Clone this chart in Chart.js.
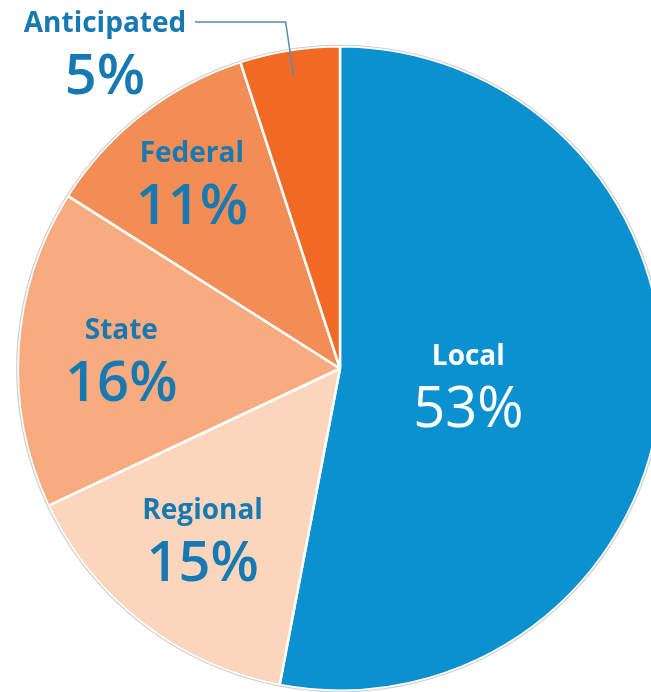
<!DOCTYPE html>
<html>
<head>
<meta charset="utf-8">
<script src="https://cdn.jsdelivr.net/npm/chart.js@4.4.1/dist/chart.umd.min.js"></script>
<style>
  html, body { margin: 0; padding: 0; background: #fff; overflow: hidden; width: 651px; height: 692px; }
  #wrap { position: absolute; left: 0; top: 0; width: 680px; height: 700px; }
</style>
</head>
<body>
<div id="wrap"><canvas id="myChart" width="680" height="700"></canvas></div>
<script>
// data
const categories = ["Local", "Regional", "State", "Federal", "Anticipated"];
const shares = [53, 15, 16, 11, 5];

const colors = ["#0b91cf", "#fcd6bc", "#f8ab7e", "#f38d56", "#f06a25"];
const labelColor = "#1679b2";
// how far out (fraction of radius) each label sits
const labelRadius = [0.40, 0.67, 0.68, 0.75, 0.92];

const fontFamily = "'Open Sans', 'Noto Sans', sans-serif";

// draws the thin grey rim and the slice labels
const labelPlugin = {
    id: "sliceLabels",
    afterDatasetsDraw(chart) {
        const ctx = chart.ctx;
        const arcs = chart.getDatasetMeta(0).data;
        const first = arcs[0];
        ctx.save();
        ctx.beginPath();
        ctx.arc(first.x, first.y, first.outerRadius + 1, 0, Math.PI * 2);
        ctx.strokeStyle = "#cfcfcf";
        ctx.lineWidth = 1.2;
        ctx.stroke();

        ctx.textAlign = "center";
        ctx.textBaseline = "alphabetic";
        arcs.forEach((arc, i) => {
            const mid = (arc.startAngle + arc.endAngle) / 2 + (i === 1 ? 0.03 : 0);
            const r = arc.outerRadius * labelRadius[i];
            let x = arc.x + Math.cos(mid) * r;
            let y = arc.y + Math.sin(mid) * r;
            const pct = shares[i] + "%";
            if (categories[i] === "Anticipated") {
                // leader line from slice to label up top-left
                ctx.beginPath();
                ctx.moveTo(x, y);
                ctx.lineTo(x - 8, 22);
                ctx.lineTo(195, 22);
                ctx.strokeStyle = "#4f8db5";
                ctx.lineWidth = 1.5;
                ctx.stroke();
                x = 105;
                y = 48;
            }
            const isLocal = i === 0;
            ctx.fillStyle = isLocal ? "#ffffff" : labelColor;
            ctx.font = "700 28px " + fontFamily;
            ctx.fillText(categories[i], x, y - 16);
            ctx.font = (isLocal ? "500 " : "600 ") + "56px " + fontFamily;
            ctx.fillText(pct, x, y + 46);
        });
        ctx.restore();
    }
};

const ctx = document.getElementById("myChart").getContext("2d");
const myChart = new Chart(ctx, {
    type: "pie",
    data: {
        labels: categories,
        datasets: [
            {
                data: shares,
                backgroundColor: colors,
                borderColor: "#ffffff",
                borderWidth: 2.5,
            },
        ],
    },
    options: {
        responsive: false,
        animation: false,
        layout: {
            padding: { left: 16, top: 45, right: 16, bottom: 8 },
        },
        plugins: {
            legend: { display: false },
            tooltip: { enabled: false },
        },
    },
    plugins: [labelPlugin],
});
</script>
</body>
</html>
